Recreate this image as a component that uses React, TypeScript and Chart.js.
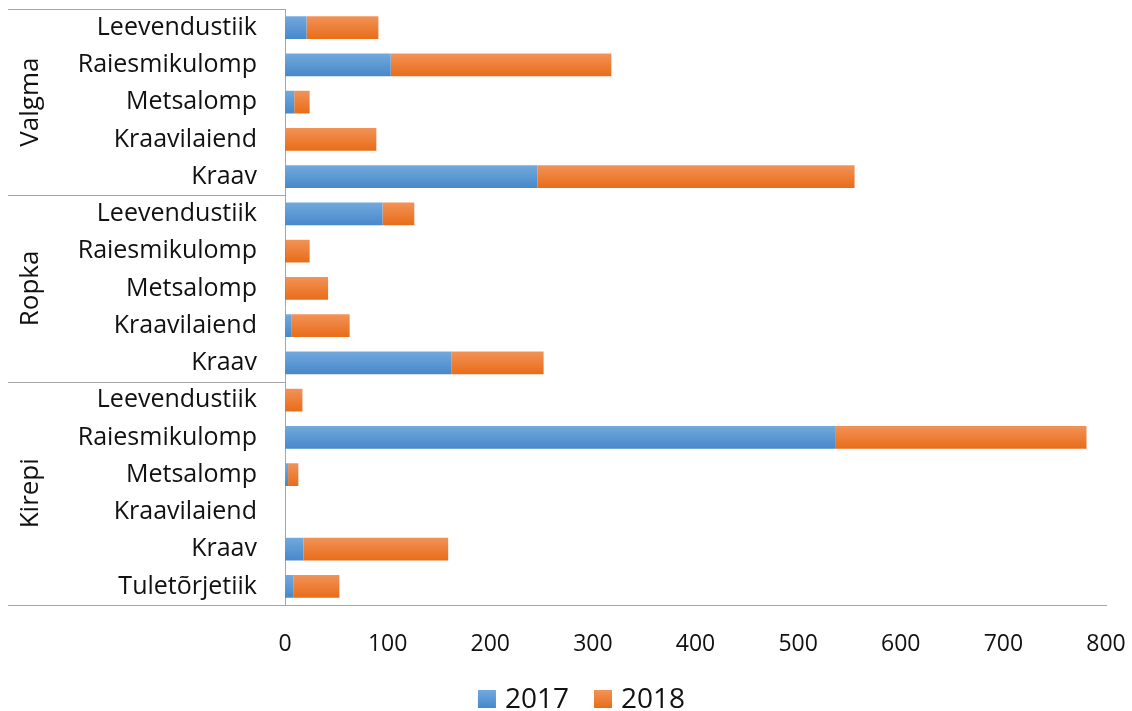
import React, { useEffect, useRef } from "react";
import { Chart, registerables } from "chart.js";

Chart.register(...registerables);

const groups = ["Valgma", "Ropka", "Kirepi"];
const groupSizes = [5, 5, 6];
const categories = [
  "Leevendustiik", "Raiesmikulomp", "Metsalomp", "Kraavilaiend", "Kraav",
  "Leevendustiik", "Raiesmikulomp", "Metsalomp", "Kraavilaiend", "Kraav",
  "Leevendustiik", "Raiesmikulomp", "Metsalomp", "Kraavilaiend", "Kraav", "Tuletõrjetiik",
];
const values2017 = [21, 103, 9, 0, 246, 95, 1, 1, 6, 162, 0, 536, 3, 0, 18, 8];
const values2018 = [70, 215, 15, 89, 309, 31, 23, 41, 57, 90, 17, 245, 10, 0, 141, 45];
const seriesNames = ["2017", "2018"];
const xTicks = [0, 100, 200, 300, 400, 500, 600, 700, 800];

const FONT = "'Open Sans', 'DejaVu Sans', sans-serif";
const LINE = "#A6A6A6";
const TEXT = "#111111";

const palettes = [
  { top: "#72A9DE", bottom: "#4788C9", solid: "#5B9BD5" },
  { top: "#F29358", bottom: "#E86C18", solid: "#ED7D31" },
];

function gradientFor(i: number) {
  return (c: any) => {
    const chart = c.chart;
    const y = chart.scales && chart.scales.y;
    const p = palettes[i];
    if (!y || c.dataIndex == null || !chart.chartArea) return p.solid;
    const center = y.getPixelForValue(c.dataIndex);
    const half = 11.5;
    const g = chart.ctx.createLinearGradient(0, center - half, 0, center + half);
    g.addColorStop(0, p.top);
    g.addColorStop(1, p.bottom);
    return g;
  };
}

function zeroPad(scale: any) {
  scale.paddingTop = 0;
  scale.paddingBottom = 0;
  scale.paddingLeft = 0;
  scale.paddingRight = 0;
}

const groupPlugin = {
  id: "groupPlugin",
  afterDraw(chart: any) {
    const { ctx, chartArea } = chart;
    const y = chart.scales.y;
    ctx.save();
    const bounds: number[] = [chartArea.top];
    let idx = 0;
    groupSizes.forEach((n, gi) => {
      idx += n;
      if (gi < groupSizes.length - 1) {
        bounds.push((y.getPixelForValue(idx - 1) + y.getPixelForValue(idx)) / 2);
      }
    });
    bounds.push(chartArea.bottom);
    ctx.strokeStyle = LINE;
    ctx.lineWidth = 1;
    bounds.forEach((b) => {
      const yy = Math.round(b) + 0.5;
      ctx.beginPath();
      ctx.moveTo(8, yy);
      ctx.lineTo(chartArea.left, yy);
      ctx.stroke();
    });
    ctx.fillStyle = TEXT;
    ctx.font = `26px ${FONT}`;
    ctx.textAlign = "center";
    ctx.textBaseline = "middle";
    for (let g = 0; g < groups.length; g++) {
      const cy = (bounds[g] + bounds[g + 1]) / 2;
      ctx.save();
      ctx.translate(31, cy);
      ctx.rotate(-Math.PI / 2);
      ctx.fillText(groups[g], 0, 0);
      ctx.restore();
    }
    ctx.font = `28px ${FONT}`;
    ctx.textAlign = "left";
    ctx.textBaseline = "alphabetic";
    const box = 18, gap = 9, spacing = 25;
    const widths = seriesNames.map((s) => ctx.measureText(s).width);
    let total = 0;
    widths.forEach((w, i) => { total += box + gap + w + (i > 0 ? spacing : 0); });
    let x = 581.5 - total / 2;
    seriesNames.forEach((s, i) => {
      const p = palettes[i];
      const g = ctx.createLinearGradient(0, 690, 0, 708);
      g.addColorStop(0, p.top);
      g.addColorStop(1, p.bottom);
      ctx.fillStyle = g;
      ctx.fillRect(x, 690, box, box);
      ctx.fillStyle = TEXT;
      ctx.fillText(s, x + box + gap, 708);
      x += box + gap + widths[i] + spacing;
    });
    ctx.restore();
  },
};

export default function App() {
  const ref = useRef<HTMLCanvasElement | null>(null);
  useEffect(() => {
    document.body.style.margin = "0";
    const canvas = ref.current;
    if (!canvas) return;
    const chart = new Chart(canvas, {
      type: "bar",
      data: {
        labels: categories,
        datasets: [
          { label: seriesNames[0], data: values2017, backgroundColor: gradientFor(0) as any, barPercentage: 0.61, categoryPercentage: 1 },
          { label: seriesNames[1], data: values2018, backgroundColor: gradientFor(1) as any, barPercentage: 0.61, categoryPercentage: 1 },
        ],
      },
      options: {
        indexAxis: "y",
        responsive: false,
        animation: false,
        maintainAspectRatio: false,
        layout: { padding: { left: 30, right: 26, top: 9, bottom: 46 } },
        plugins: { legend: { display: false }, tooltip: { enabled: false } },
        scales: {
          x: {
            stacked: true,
            min: 0,
            max: 800,
            afterBuildTicks: (scale: any) => {
              scale.ticks = xTicks.map((v) => ({ value: v }));
            },
            afterFit: (scale: any) => { scale.height = 60; zeroPad(scale); },
            grid: { display: false, drawTicks: false },
            border: { display: true, color: LINE, width: 1 },
            ticks: { color: TEXT, font: { family: FONT, size: 23 }, padding: 26, maxRotation: 0, autoSkip: false },
          },
          y: {
            stacked: true,
            afterFit: (scale: any) => { scale.width = 255; zeroPad(scale); },
            grid: { display: false, drawTicks: false },
            border: { display: true, color: LINE, width: 1 },
            ticks: { color: TEXT, font: { family: FONT, size: 25 }, padding: 28, autoSkip: false, crossAlign: "near" },
          },
        },
      },
      plugins: [groupPlugin],
    });
    return () => chart.destroy();
  }, []);
  return (
    <div style={{ width: 1132, height: 711, position: "relative", background: "#fff" }}>
      <canvas ref={ref} width={1132} height={711} style={{ display: "block" }} />
    </div>
  );
}
